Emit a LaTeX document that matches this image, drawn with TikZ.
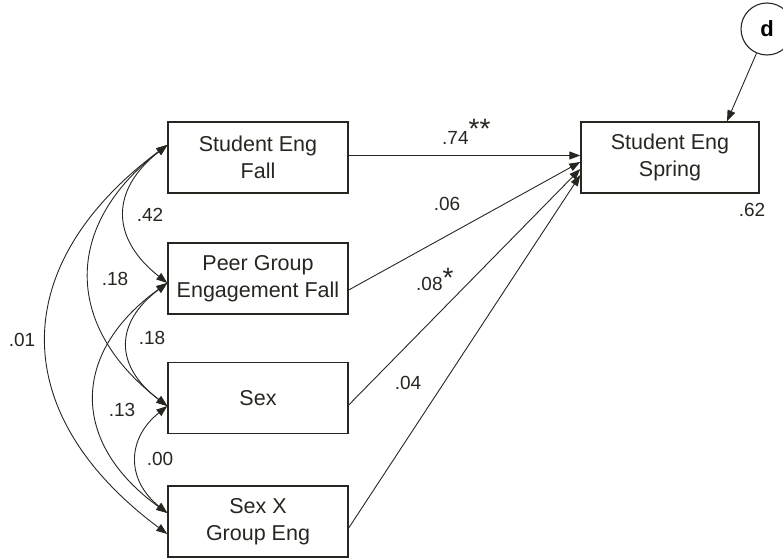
\documentclass[tikz,border=0pt]{standalone}
\usepackage{fontspec}
\setmainfont{Liberation Sans}
\usetikzlibrary{arrows.meta}
\definecolor{ink}{RGB}{40,38,32}
\tikzset{
  box/.style={draw=ink, line width=1.4pt, minimum width=180pt, minimum height=71pt, inner sep=0pt, align=center, font=\fontsize{21.5}{27}\selectfont, text=ink},
  lbl/.style={inner sep=0pt, font=\fontsize{19}{20}\selectfont, text=ink},
  path/.style={draw=ink, line width=0.9pt, -{Triangle[length=11pt,width=8pt]}},
  cov/.style={draw=ink, line width=0.9pt, {Triangle[length=11pt,width=8pt]}-{Triangle[length=11pt,width=8pt]}},
}
\begin{document}
\begin{tikzpicture}[x=1pt,y=-1pt]
\useasboundingbox (0,0) rectangle (783,559);
\node[box] (b1) at (258,157.5) {Student Eng\\Fall};
\node[box] (b2) at (258,278.5) {Peer Group\\Engagement Fall};
\node[box] (b3) at (258,398) {Sex};
\node[box] (b4) at (258,521.5) {Sex X\\Group Eng};
\node[box, minimum width=178pt] (sp) at (670,157.5) {Student Eng\\Spring};
\node[draw=ink, line width=1.1pt, circle, minimum size=52pt, inner sep=0pt, font=\fontsize{22}{22}\selectfont\bfseries] (d) at (767,29) {d};

% paths
\draw[path] ([yshift=2pt]b1.east) -- ([yshift=2pt]sp.west);
\draw[path] ([yshift=-11.5pt]b2.east) -- ([yshift=-4.5pt]sp.west);
\draw[path] ([yshift=-7pt]b3.east) -- ([yshift=-11.5pt]sp.west);
\draw[path] ([yshift=-6.5pt]b4.east) -- ([yshift=-17.5pt]sp.west);
\draw[path] (d) -- ([xshift=57pt]sp.north);

% covariances
\draw[cov] ([yshift=12.5pt]b1.west) .. controls +(-57,45) and +(-57,-45) .. ([yshift=-4.5pt]b2.west);
\draw[cov] ([yshift=12.5pt]b1.west) .. controls +(-104,80) and +(-104,-80) .. ([yshift=-8pt]b3.west);
\draw[cov] ([yshift=12.5pt]b1.west) .. controls +(-161,120) and +(-161,-120) .. ([yshift=-12.5pt]b4.west);
\draw[cov] ([yshift=-4.5pt]b2.west) .. controls +(-53,40) and +(-53,-40) .. ([yshift=-8pt]b3.west);
\draw[cov] ([yshift=-4.5pt]b2.west) .. controls +(-97,70) and +(-97,-70) .. ([yshift=8.5pt]b4.west);
\draw[cov] ([yshift=-8pt]b3.west) .. controls +(-41,33) and +(-41,-33) .. ([yshift=8.5pt]b4.west);

% labels
\node[lbl, anchor=base west] (l74) at (442,144) {.74\raisebox{6pt}{\fontsize{28}{28}\selectfont **}};
\node[lbl] (l06) at (447,204) {.06};
\node[lbl, anchor=base west] (l08) at (416,290) {.08\raisebox{3pt}{\fontsize{28}{28}\selectfont *}};
\node[lbl] (l04) at (408,383) {.04};
\node[lbl] (l62) at (752,210) {.62};
\node[lbl] (l42) at (150,215) {.42};
\node[lbl] (l18a) at (115,279) {.18};
\node[lbl] (l01) at (22,340) {.01};
\node[lbl] (l18b) at (152,338) {.18};
\node[lbl] (l13) at (122,410) {.13};
\node[lbl] (l00) at (160,459) {.00};
\end{tikzpicture}
\end{document}
